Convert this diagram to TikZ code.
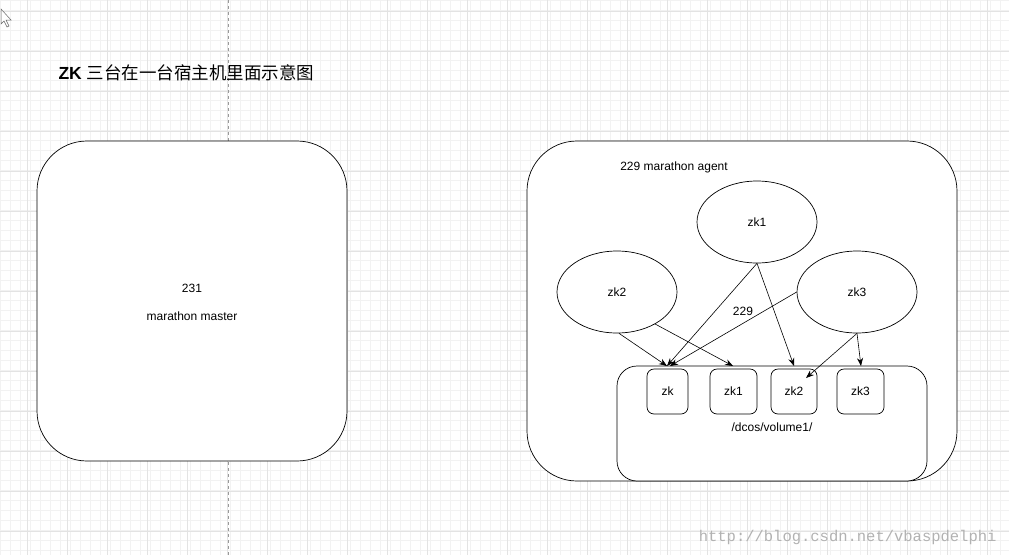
\documentclass[tikz,border=0pt]{standalone}
\usepackage{fontspec}
\setmainfont{Liberation Sans}
\newfontfamily\cjk{Noto Sans CJK SC}
\newfontfamily\wm{Liberation Mono}
\usetikzlibrary{shapes.geometric,arrows.meta}
\begin{document}
\begin{tikzpicture}[x=1pt,y=-1pt,
  lbl/.style={font=\fontsize{12}{14}\selectfont},
  ell/.style={draw,ellipse,minimum width=120pt,minimum height=82pt,inner sep=0pt,lbl,line width=0.7pt,fill=white},
  sbox/.style={draw,rounded corners=7pt,minimum width=44pt,minimum height=45pt,inner sep=0pt,lbl,line width=0.7pt,fill=white},
  arr/.style={-{Stealth[length=8pt,width=6pt]},line width=0.6pt}]
\useasboundingbox (0,0) rectangle (1009,555);
\fill[white] (0,0) rectangle (1009,555);
\foreach \i in {0,10,...,1000} \draw[black!5,line width=0.5pt] (\i,0) -- (\i,555);
\foreach \i in {0,10,...,550} \draw[black!5,line width=0.5pt] (0,\i) -- (1009,\i);
\foreach \i in {27,67,...,1000} \draw[black!11,line width=0.5pt] (\i,0) -- (\i,555);
\foreach \i in {11,51,...,550} \draw[black!11,line width=0.5pt] (0,\i) -- (1009,\i);
\draw[black!40,dashed,line width=0.6pt] (228,0) -- (228,555);
\draw[black!60,line width=0.5pt,fill=white] (1,9) -- (1,24) -- (4,21) -- (7,27) -- (9,26) -- (6,20) -- (11,20) -- cycle;
\node[anchor=west,font=\fontsize{17.5}{20}\selectfont] (title) at (55,73) {\textbf{ZK} {\cjk 三台在一台宿主机里面示意图}};
\node[draw,fill=white,rounded corners=50pt,minimum width=310pt,minimum height=320pt,line width=0.7pt] (master) at (192,301) {};
\node[lbl] (m1) at (192,288) {231};
\node[lbl] (m2) at (192,316) {marathon master};
\node[draw,fill=white,rounded corners=50pt,minimum width=430pt,minimum height=340pt,line width=0.7pt] (agent) at (742,311) {};
\node[lbl] (agtxt) at (674,167) {229 marathon agent};
\node[draw,fill=white,rounded corners=20pt,minimum width=310pt,minimum height=115pt,line width=0.7pt] (vol) at (772,423.5) {};
\node[lbl] (voltxt) at (772,427) {/dcos/volume1/};
\node[ell] (e1) at (757,222) {zk1};
\node[ell] (e2) at (617,292) {zk2};
\node[ell] (e3) at (857,292) {zk3};
\node[lbl] (n229) at (743,311) {229};
\node[sbox,minimum width=41pt] (b0) at (667.5,391.5) {zk};
\node[sbox,minimum width=47pt] (b1) at (733.5,391.5) {zk1};
\node[sbox,minimum width=46pt] (b2) at (794,391.5) {zk2};
\node[sbox,minimum width=47pt] (b3) at (860.5,391.5) {zk3};
\coordinate (t0) at (667,366);
\coordinate (t0b) at (670,366);
\coordinate (t1) at (733,366);
\coordinate (t2) at (794,366);
\coordinate (t2b) at (806,378);
\coordinate (t3) at (861,366);
\draw[arr] (e2.south) ++(2,0) -- (t0);
\draw[arr] (e2.-40) -- (t1);
\draw[arr] (e1.south) -- (t0);
\draw[arr] (e1.south) -- (t2);
\draw[arr] (e3.west) -- (t0b);
\draw[arr] (e3.south) -- (t2b);
\draw[arr] (e3.south) -- (t3);
\node[text=black!30,font=\wm\fontsize{15.5}{17}\selectfont,anchor=east] (wmk) at (1000,537) {http://blog.csdn.net/vbaspdelphi};
\end{tikzpicture}
\end{document}
